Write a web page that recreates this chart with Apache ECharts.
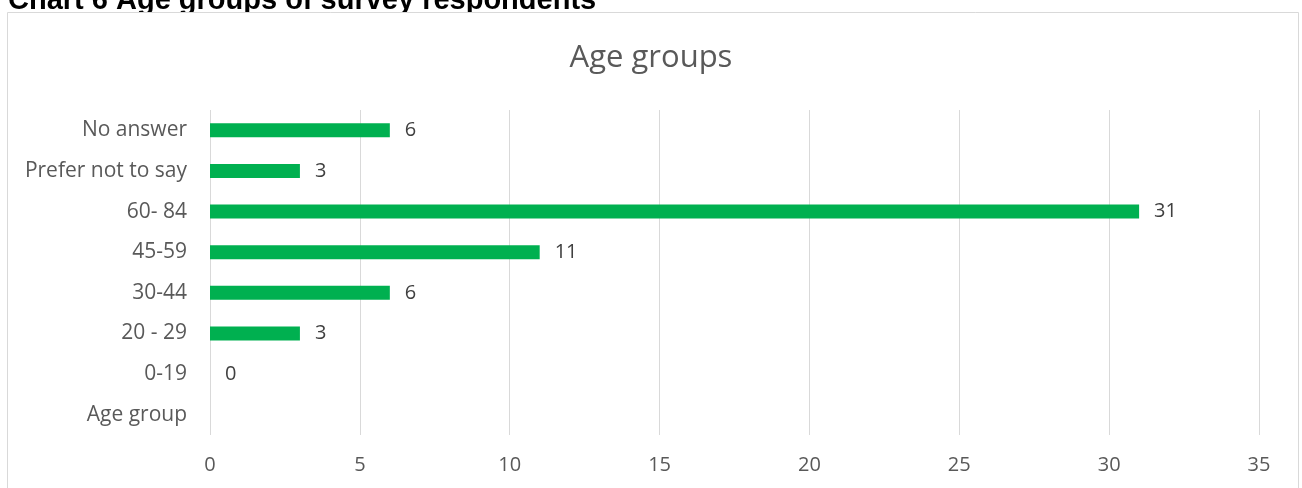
<!DOCTYPE html>
<html>
<head>
<meta charset="utf-8">
<script src="https://cdn.jsdelivr.net/npm/echarts@6/dist/echarts.min.js"></script>
<style>
html,body{margin:0;padding:0;background:#fff;}
#chart{width:1302px;height:488px;}
</style>
</head>
<body>
<div id="chart"></div>
<script>
const categories = ['Age group', '0-19', '20 - 29', '30-44', '45-59', '60- 84', 'Prefer not to say', 'No answer'];
const values = [null, 0, 3, 6, 11, 31, 3, 6];
const xTicks = { min: 0, max: 35, interval: 5 };
const pageTitle = 'Chart 6 Age groups of survey respondents';
const chartTitle = 'Age groups';

const FONT = '"Open Sans", sans-serif';
const chart = echarts.init(document.getElementById('chart'), null, { renderer: 'canvas' });
chart.setOption({
  animation: false,
  backgroundColor: '#fff',
  title: {
    text: chartTitle,
    left: 'center',
    top: 38,
    textStyle: { color: '#595959', fontFamily: FONT, fontSize: 31, fontWeight: 'normal' }
  },
  graphic: [
    {
      type: 'text', z: -20, x: 8, y: 1,
      style: { text: pageTitle, fill: '#000', font: 'bold 29px "Liberation Sans", Arial, sans-serif', verticalAlign: 'middle' }
    },
    {
      type: 'rect', z: -10,
      shape: { x: 7.5, y: 12.5, width: 1291, height: 520 },
      style: { fill: '#fff', stroke: '#d9d9d9', lineWidth: 1 }
    }
  ],
  grid: { left: 210, right: 43, top: 110, bottom: 53, containLabel: false },
  xAxis: {
    type: 'value',
    min: xTicks.min, max: xTicks.max, interval: xTicks.interval,
    axisLine: { show: false },
    axisTick: { show: false },
    axisLabel: { color: '#595959', fontFamily: FONT, fontSize: 20, margin: 20 },
    splitLine: { lineStyle: { color: '#d9d9d9', width: 1 } }
  },
  yAxis: {
    type: 'category',
    data: categories,
    axisLine: { show: false },
    axisTick: { show: false },
    axisLabel: { color: '#595959', fontFamily: FONT, fontSize: 21, margin: 23 },
    splitLine: { show: false }
  },
  series: [{
    type: 'bar',
    data: values,
    barWidth: 14,
    itemStyle: { color: '#00b050' },
    label: {
      show: true, position: 'right', distance: 15,
      color: '#404040', fontFamily: FONT, fontSize: 20
    }
  }]
});
</script>
</body>
</html>
